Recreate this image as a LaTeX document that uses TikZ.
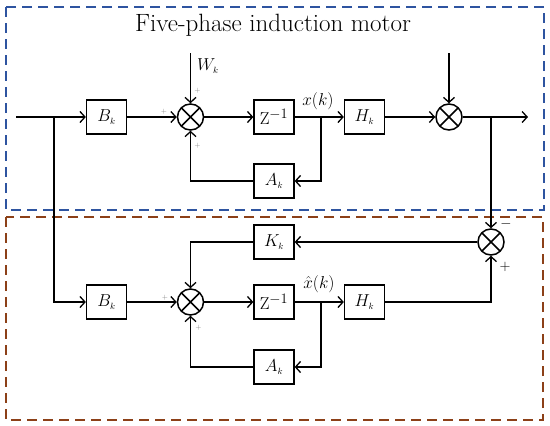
\documentclass[tikz,border=0pt]{standalone}
\usetikzlibrary{arrows.meta,calc}
\definecolor{boxblue}{RGB}{46,84,160}
\definecolor{boxred}{RGB}{140,64,24}
\tikzset{
  blk/.style={draw, line width=1.3pt, minimum width=40pt, minimum height=34pt, inner sep=0pt, font=\fontsize{19}{20}\selectfont, fill=white},
  sumnode/.style={circle, draw, line width=1.5pt, minimum size=26pt, inner sep=0pt,
    path picture={\draw[line width=1.5pt] (path picture bounding box.north west) -- (path picture bounding box.south east)
      (path picture bounding box.north east) -- (path picture bounding box.south west);}},
  wire/.style={line width=1.3pt},
  arr/.style={line width=1.3pt, -{Straight Barb[length=5pt,width=11pt,line width=1.3pt]}},
  pl/.style={text=gray, font=\fontsize{7}{8}\selectfont, inner sep=0pt},
  sg/.style={font=\fontsize{15}{16}\selectfont, inner sep=0pt},
  lbl/.style={font=\fontsize{19}{20}\selectfont, inner sep=0pt},
  frame/.style={line width=1.8pt, dash pattern=on 10pt off 6pt},
}
\begin{document}
\begin{tikzpicture}[x=1pt,y=-1pt]
\useasboundingbox (0,0) rectangle (550,426);
% frames
\draw[frame, boxblue] (6,7) rectangle (544,210);
\draw[frame, boxred] (6,217) rectangle (543,420);
\node[font=\fontsize{25}{28}\selectfont] (title) at (273,25) {Five-phase induction motor};
% top row
\coordinate (in) at (16,117);
\coordinate (br1) at (54,117);
\node[blk] (B1) at (106.5,117) {$B_{\scriptscriptstyle k}$};
\node[sumnode] (S1) at (190.5,117) {};
\node[blk] (Z1) at (274,117) {$\mathrm{Z}^{-1}$};
\node[blk] (H1) at (364.5,117) {$H_{\scriptscriptstyle k}$};
\node[sumnode] (S2) at (449,117) {};
\node[blk] (A1) at (274,181) {$A_{\scriptscriptstyle k}$};
\coordinate (w) at (190.5,53);
\coordinate (v) at (449,53);
\coordinate (out) at (528,117);
\coordinate (br2) at (491,117);
\coordinate (bx1) at (321,117);
% lower part
\node[sumnode] (S3) at (491,242) {};
\node[blk] (K) at (274,242) {$K_{\scriptscriptstyle k}$};
\node[blk] (B2) at (106.5,302) {$B_{\scriptscriptstyle k}$};
\node[sumnode] (S4) at (190.5,302) {};
\node[blk] (Z2) at (274,302) {$\mathrm{Z}^{-1}$};
\node[blk] (H2) at (364.5,302) {$H_{\scriptscriptstyle k}$};
\node[blk] (A2) at (274,367) {$A_{\scriptscriptstyle k}$};
\coordinate (bx2) at (321,302);
% connectors top
\draw[wire] (in) -- (br1);
\draw[arr] (br1) -- (B1);
\draw[arr] (B1) -- (S1);
\draw[arr] (w) -- (S1);
\draw[arr] (S1) -- (Z1);
\draw[wire] (Z1) -- (bx1);
\draw[arr] (bx1) -- (H1);
\draw[arr] (bx1) |- (A1);
\draw[arr] (A1) -| (S1);
\draw[arr] (H1) -- (S2);
\draw[arr] (v) -- (S2);
\draw[wire] (S2) -- (br2);
\draw[arr] (br2) -- (out);
\draw[arr] (br2) -- (S3);
% connectors bottom
\draw[arr] (br1) |- (B2);
\draw[arr] (B2) -- (S4);
\draw[arr] (S4) -- (Z2);
\draw[wire] (Z2) -- (bx2);
\draw[arr] (bx2) -- (H2);
\draw[arr] (bx2) |- (A2);
\draw[arr] (A2) -| (S4);
\draw[arr] (H2) -| (S3);
\draw[arr] (S3) -- (K);
\draw[arr] (K) -| (S4);
% labels
\node[lbl, anchor=west] (wl) at (197,66) {$W_{\scriptscriptstyle k}$};
\node[lbl] (xl) at (318,101) {$x(k)$};
\node[lbl] (xh) at (319,284) {$\hat{x}(k)$};
\node[pl] (p1) at (197.5,91) {+};
\node[pl] (p2) at (164,111.5) {+};
\node[pl] (p3) at (197.5,146) {+};
\node[pl] (p4) at (165,297.5) {+};
\node[pl] (p5) at (198.5,328) {+};
\node[sg] (m1) at (506,224) {$-$};
\node[sg] (p6) at (505,267) {$+$};
\end{tikzpicture}
\end{document}
